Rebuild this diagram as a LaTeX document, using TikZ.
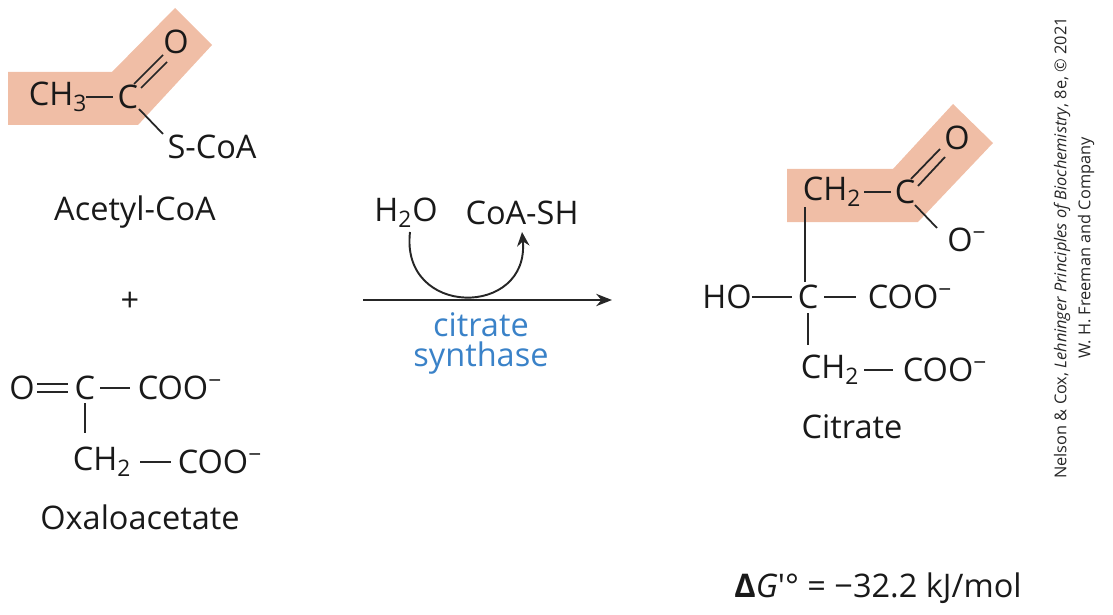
\documentclass[tikz,border=0pt]{standalone}
\usepackage{fontspec}
\setmainfont{Open Sans}
\usetikzlibrary{arrows.meta}
\definecolor{peach}{RGB}{240,190,166}
\definecolor{enz}{RGB}{58,130,200}
\newcommand{\mysub}[1]{\textsubscript{#1}}
\newcommand{\myneg}{\textsuperscript{−}}
\begin{document}
\begin{tikzpicture}[x=0.02cm,y=-0.02cm,
  t/.style={font=\fontsize{18.5}{22}\selectfont,inner sep=0pt,text=black!90},
  bond/.style={line width=1pt,black!85},
  hl/.style={fill=peach,draw=none}]
\useasboundingbox (0,0) rectangle (1113,615);
% highlights
\fill[hl] (8,72)--(112,72)--(175,8)--(212,45)--(138,125)--(8,125)--cycle;
\fill[hl] (787,169)--(893,169)--(953,104)--(993,143)--(918,222)--(787,222)--cycle;
% acetyl-CoA
\node[t] (ch3) at (58,97) {CH\mysub{3}};
\node[t] (c1) at (128,97) {C};
\node[t] (o1) at (176,42) {O};
\node[t] (scoa) at (212,147) {S-CoA};
\draw[bond] (86,97)--(113,97);
\draw[bond] (134,84)--(163,55);
\draw[bond] (141,88)--(167,62);
\draw[bond] (139,109)--(163,134);
\node[t] (acoa) at (135,212) {Acetyl-CoA};
\node[t] (plus) at (130,302) {+};
% oxaloacetate
\node[t] (o2) at (22,388) {O};
\node[t] (c2) at (85,388) {C};
\node[t] (coo1) at (180,388) {COO\myneg};
\node[t] (ch2a) at (102,462) {CH\mysub{2}};
\node[t] (coo2) at (220,462) {COO\myneg};
\draw[bond] (37,384)--(68,384);
\draw[bond] (37,392)--(68,392);
\draw[bond] (100,388)--(130,388);
\draw[bond] (85,403)--(85,433);
\draw[bond] (140,462)--(171,462);
\node[t] (oxa) at (140,517) {Oxaloacetate};
% reaction arrow
\coordinate (a1) at (363,300);
\coordinate (a2) at (612,300);
\draw[line width=1.1pt,black!85,-{Stealth[length=9pt,width=7pt]}] (a1)--(a2);
\node[t] (h2o) at (406,213) {H\mysub{2}O};
\node[t] (coash) at (522,213) {CoA-SH};
\draw[line width=1.1pt,black!85,-{Stealth[length=8pt,width=7pt]}]
  (410,232) .. controls (400,318) and (530,318) .. (522,232);
\node[t,text=enz] (e1) at (481,325) {citrate};
\node[t,text=enz] (e2) at (481,358) {synthase};
% citrate
\node[t] (ch2b) at (832,192) {CH\mysub{2}};
\node[t] (c3) at (905,192) {C};
\node[t] (o3) at (957,138) {O};
\node[t] (om) at (967,240) {O\myneg};
\draw[bond] (864,192)--(891,192);
\draw[bond] (911,179)--(940,149);
\draw[bond] (918,186)--(945,157);
\draw[bond] (915,205)--(937,228);
\draw[bond] (805,207)--(805,282);
\node[t] (ho) at (727,297) {HO};
\node[t] (c4) at (808,297) {C};
\node[t] (coo3) at (910,297) {COO\myneg};
\draw[bond] (752,297)--(792,297);
\draw[bond] (824,297)--(856,297);
\draw[bond] (808,313)--(808,345);
\node[t] (ch2c) at (830,370) {CH\mysub{2}};
\node[t] (coo4) at (945,370) {COO\myneg};
\draw[bond] (864,370)--(893,370);
\node[t] (cit) at (852,427) {Citrate};
\node[t] (dg) at (878,588) {\textbf{Δ}\textit{G}′° = −32.2 kJ/mol};
% credit
\node[font=\fontsize{9.3}{11}\selectfont,inner sep=0pt,rotate=90,text=black!85] (cr1) at (1062,248)
  {Nelson \& Cox, \textit{Lehninger Principles of Biochemistry}, 8e, © 2021};
\node[font=\fontsize{9.3}{11}\selectfont,inner sep=0pt,rotate=90,text=black!85] (cr2) at (1086,248)
  {W. H. Freeman and Company};
\end{tikzpicture}
\end{document}
